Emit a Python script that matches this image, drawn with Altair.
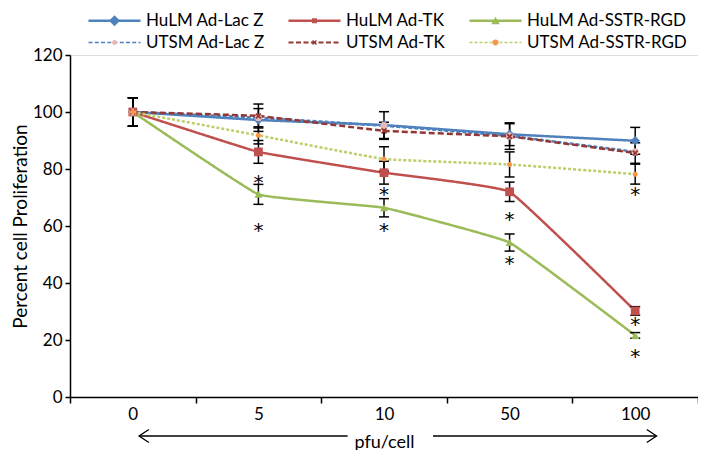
import math
import altair as alt
import pandas as pd

# ---------------- data ----------------
doses = ["0", "5", "10", "50", "100"]
series = ["HuLM Ad-Lac Z", "HuLM Ad-TK", "HuLM Ad-SSTR-RGD",
          "UTSM Ad-Lac Z", "UTSM Ad-TK", "UTSM Ad-SSTR-RGD"]

hulm_lacz = [100, 97.2, 95.4, 92.2, 89.9]
hulm_tk = [100, 86.0, 78.7, 72.0, 30.2]
hulm_sstr = [100, 71.1, 66.4, 54.2, 21.6]
utsm_lacz = [100, 98.0, 95.2, 91.6, 86.0]
utsm_tk = [100, 98.6, 93.4, 91.4, 85.6]
utsm_sstr = [100, 91.8, 83.5, 81.6, 78.2]

err_hulm_lacz = [5, 4.0, 4.7, 4.0, 4.7]
err_hulm_tk = [5, 4.0, 4.0, 3.4, 1.5]
err_hulm_sstr = [5, 3.5, 3.2, 3.0, 1.0]
err_utsm_lacz = [5, 0, 0, 0, 0]
err_utsm_tk = [5, 4.2, 3.0, 4.5, 3.6]
err_utsm_sstr = [5, 3.0, 4.3, 4.4, 3.5]

star_doses = ["5", "10", "50", "100", "5", "10", "50", "100", "100"]
star_levels = [76.8, 72.6, 63.8, 26.9, 60.0, 60.0, 48.3, 15.8, 72.6]

values = [hulm_lacz, hulm_tk, hulm_sstr, utsm_lacz, utsm_tk, utsm_sstr]
errors = [err_hulm_lacz, err_hulm_tk, err_hulm_sstr, err_utsm_lacz, err_utsm_tk, err_utsm_sstr]

# ---------------- styles ----------------
FONT = "Lato"
line_colors = ["#4F81BD", "#C0504D", "#9BBB59", "#4F81BD", "#953735", "#BBCF6A"]
marker_colors = ["#4F81BD", "#C0504D", "#9BBB59", "#E6B9B8", "#953735", "#F79646"]
dashes = [[1, 0], [1, 0], [1, 0], [4, 2], [6, 3], [3, 2]]
widths = [2.5, 2.5, 2.5, 1.5, 2.2, 1.3]

XPATH = "M-1,-0.6L-0.6,-1L0,-0.4L0.6,-1L1,-0.6L0.4,0L1,0.6L0.6,1L0,0.4L-0.6,1L-1,0.6L-0.4,0Z"
plot_shapes = ["diamond", "square", "triangle-up", "circle", XPATH, "circle"]
plot_sizes = [90, 25, 45, 25, 30, 36]


def scaled(path_pts, s):
    return "M" + "L".join(f"{x*s:.3f},{y*s:.3f}" for x, y in path_pts) + "Z"


def hline(x0, x1, t):
    return f"M{x0:.3f},{-t:.3f}L{x1:.3f},{-t:.3f}L{x1:.3f},{t:.3f}L{x0:.3f},{t:.3f}Z"


def dashed(x0, x1, t, dash, gap):
    out, x = [], x0
    while x < x1:
        e = min(x + dash, x1)
        out.append(hline(x, e, t))
        x = e + gap
    return "".join(out)


def circle(r, n=14):
    pts = [(r * math.cos(2 * math.pi * i / n), r * math.sin(2 * math.pi * i / n)) for i in range(n)]
    return scaled(pts, 1)


xpts = [(-1, -0.6), (-0.6, -1), (0, -0.4), (0.6, -1), (1, -0.6), (0.4, 0), (1, 0.6),
        (0.6, 1), (0, 0.4), (-0.6, 1), (-1, 0.6), (-0.4, 0)]

L = 5.2  # half length of legend line (units, 5px per unit)
legend_lines = [hline(-L, L, 0.25), hline(-L, L, 0.25), hline(-L, L, 0.25),
                dashed(-L, L, 0.15, 0.8, 0.45), dashed(-L, L, 0.2, 1.0, 0.5),
                dashed(-L, L, 0.13, 0.6, 0.4)]
legend_marks = ["M0,-1.1L1.1,0L0,1.1L-1.1,0Z",
                "M-0.5,-0.5L0.5,-0.5L0.5,0.5L-0.5,0.5Z",
                "M0,-0.8L0.85,0.7L-0.85,0.7Z",
                circle(0.5),
                scaled(xpts, 0.5),
                circle(0.6)]

# ---------------- tables ----------------
rows, erows = [], []
for s, vals, errs in zip(series, values, errors):
    for d, v, e in zip(doses, vals, errs):
        rows.append({"series": s, "dose": d, "value": v})
        if e > 0:
            erows.append({"series": s, "dose": d, "lo": v - e, "hi": v + e})
df = pd.DataFrame(rows)
edf = pd.DataFrame(erows)
sdf = pd.DataFrame({"dose": star_doses, "level": star_levels, "label": ["*"] * len(star_levels)})

W, H = 628, 342

xscale = alt.Scale(domain=doses, paddingInner=0, paddingOuter=0)
yscale = alt.Scale(domain=[0, 120])

X = alt.X("dose:N", scale=xscale, sort=doses,
          axis=alt.Axis(title="pfu/cell", labelAngle=0, tickBand="extent", tickSize=6,
                        tickColor="black", tickWidth=1.5, domainColor="black", domainWidth=1.5,
                        labelFont=FONT, labelFontSize=17, labelColor="black", labelPadding=3,
                        titleFont=FONT, titleFontSize=18, titleFontWeight="normal",
                        titleColor="black", titlePadding=11))
Y = alt.Y("value:Q", scale=yscale,
          axis=alt.Axis(title="Percent cell Proliferation", values=[0, 20, 40, 60, 80, 100, 120],
                        grid=False, tickSize=5, tickColor="black", tickWidth=1.5,
                        domainColor="black", domainWidth=1.5,
                        labelFont=FONT, labelFontSize=17, labelColor="black", labelPadding=3,
                        titleFont=FONT, titleFontSize=19, titleFontWeight="normal",
                        titleColor="black", titlePadding=2))

base = alt.Chart(df)

lines = base.mark_line(interpolate="cardinal", tension=0.75).encode(
    x=X, y=Y,
    color=alt.Color("series:N", scale=alt.Scale(domain=series, range=line_colors), legend=None),
    strokeDash=alt.StrokeDash("series:N", scale=alt.Scale(domain=series, range=dashes), legend=None),
    strokeWidth=alt.StrokeWidth("series:N", scale=alt.Scale(domain=series, range=widths), legend=None),
    detail="series:N",
)

ebars = alt.Chart(edf).mark_rule(color="black", strokeWidth=1.5).encode(
    x=alt.X("dose:N", scale=xscale, sort=doses), y=alt.Y("lo:Q", scale=yscale), y2="hi:Q")
cap_lo = alt.Chart(edf).mark_tick(color="black", thickness=1.5, size=10, opacity=1).encode(
    x=alt.X("dose:N", scale=xscale, sort=doses), y=alt.Y("lo:Q", scale=yscale))
cap_hi = alt.Chart(edf).mark_tick(color="black", thickness=1.5, size=10, opacity=1).encode(
    x=alt.X("dose:N", scale=xscale, sort=doses), y=alt.Y("hi:Q", scale=yscale))

points = base.mark_point(filled=True, opacity=1, strokeWidth=0).encode(
    x=alt.X("dose:N", scale=xscale, sort=doses), y=alt.Y("value:Q", scale=yscale),
    shape=alt.Shape("series:N", scale=alt.Scale(domain=series, range=plot_shapes), legend=None),
    fill=alt.Fill("series:N", scale=alt.Scale(domain=series, range=marker_colors), legend=None),
    size=alt.Size("series:N", scale=alt.Scale(domain=series, range=plot_sizes), legend=None),
)

stars = alt.Chart(sdf).mark_text(font="DejaVu Sans", fontSize=20, color="black",
                                 baseline="middle", dy=5).encode(
    x=alt.X("dose:N", scale=xscale, sort=doses), y=alt.Y("level:Q", scale=yscale), text="label:N")


def legend_props(label_opacity):
    return dict(orient="none", legendX=15, legendY=-43, direction="horizontal", columns=3,
                symbolSize=100, symbolOffset=21, labelOffset=23, columnPadding=20, rowPadding=4,
                title=None, labelFont=FONT, labelFontSize=17, labelColor="black", labelLimit=400,
                labelOpacity=label_opacity, symbolStrokeWidth=0, symbolOpacity=1, padding=0)


legA = base.transform_filter("false").mark_point(filled=True, opacity=1, size=100, strokeWidth=0).encode(
    x=alt.X("dose:N", scale=xscale, sort=doses), y=alt.Y("value:Q", scale=yscale),
    shape=alt.Shape("series:N", scale=alt.Scale(domain=series, range=legend_lines),
                    legend=alt.Legend(**legend_props(1))),
    fill=alt.Fill("series:N", scale=alt.Scale(domain=series, range=line_colors),
                  legend=alt.Legend(**legend_props(1))),
)
legB = base.transform_filter("false").mark_point(filled=True, opacity=1, size=100, strokeWidth=0).encode(
    x=alt.X("dose:N", scale=xscale, sort=doses), y=alt.Y("value:Q", scale=yscale),
    shape=alt.Shape("series:N", scale=alt.Scale(domain=series, range=legend_marks),
                    legend=alt.Legend(**legend_props(0))),
    fill=alt.Fill("series:N", scale=alt.Scale(domain=series, range=marker_colors),
                  legend=alt.Legend(**legend_props(0))),
)

# ---- double-headed arrow under the x axis ----
arrow_y = H + 39
seg_left = alt.Chart(pd.DataFrame({"a": ["0"], "b": ["10"]})).mark_rule(color="black", strokeWidth=1.3).encode(
    x=alt.X("a:N", scale=xscale, sort=doses, bandPosition=0.55),
    x2=alt.X2("b:N", bandPosition=0.21),
    y=alt.value(arrow_y))
seg_right = alt.Chart(pd.DataFrame({"a": ["10"], "b": ["100"]})).mark_rule(color="black", strokeWidth=1.3).encode(
    x=alt.X("a:N", scale=xscale, sort=doses, bandPosition=0.89),
    x2=alt.X2("b:N", bandPosition=0.67),
    y=alt.value(arrow_y))
head_left = alt.Chart(pd.DataFrame({"a": ["0"]})).mark_point(
    shape="M1.5,-1L0,0L1.5,1", filled=False, size=169, color="black", strokeWidth=1.3, opacity=1
).encode(x=alt.X("a:N", scale=xscale, sort=doses, bandPosition=0.55), y=alt.value(arrow_y))
head_right = alt.Chart(pd.DataFrame({"a": ["100"]})).mark_point(
    shape="M-1.5,-1L0,0L-1.5,1", filled=False, size=169, color="black", strokeWidth=1.3, opacity=1
).encode(x=alt.X("a:N", scale=xscale, sort=doses, bandPosition=0.67), y=alt.value(arrow_y))

chart = alt.layer(lines, ebars, cap_lo, cap_hi, points, stars,
                  seg_left, seg_right, head_left, head_right, legA, legB).resolve_scale(
    shape="independent", fill="independent"
).properties(
    width=W, height=H,
    autosize=alt.AutoSizeParams(type="none"),
    padding={"left": 62, "top": 47, "right": 0, "bottom": 53},
).configure_view(stroke=None).configure(background="white")

chart.save("out.html", embed_options={"renderer": "svg", "actions": False})
